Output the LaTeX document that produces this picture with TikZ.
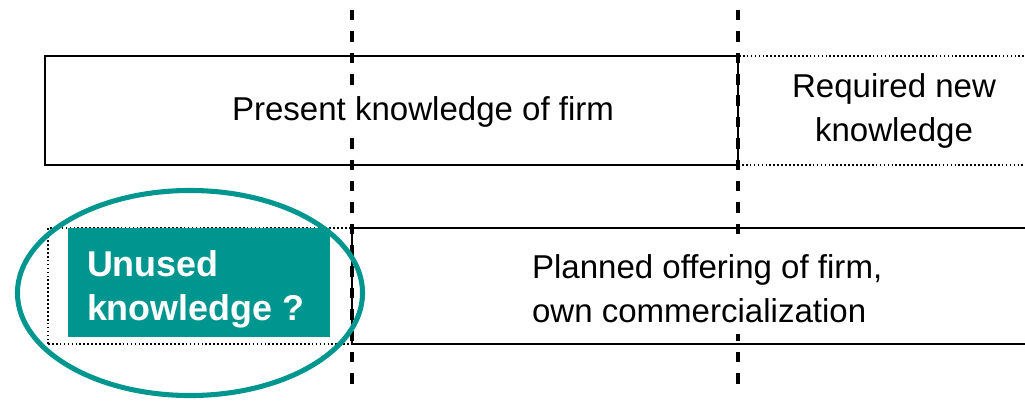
\documentclass[tikz,border=0pt]{standalone}
\usepackage{fontspec}
\setmainfont{Liberation Sans}
\usetikzlibrary{shapes.geometric}
\definecolor{tealk}{RGB}{0,150,144}
\begin{document}
\begin{tikzpicture}[x=0.025cm,y=-0.025cm]
\tikzstyle{every node} = [inner sep=0,outer sep=0,line width=1.4pt];
\tikzstyle{box} = [draw,rectangle,minimum height=2.725cm];
\tikzstyle{dotbox} = [box,dash pattern=on 1.2pt off 1.6pt];
\tikzstyle{txt} = [font=\fontsize{23.5}{31}\selectfont,fill=white,inner xsep=4pt,inner ysep=8pt,align=left,anchor=base west];
\useasboundingbox (0,0) rectangle (1025,401);
% guide lines
\foreach \x/\l in {352/a, 738/b}{
	\coordinate (\l_top) at (\x,10);
	\coordinate (\l_bot) at (\x,386);
	\draw [line width=2.2pt,dash pattern=on 7.4pt off 7.8pt] (\l_top) -- (\l_bot);
}
\node at (391.5,110.5) [box,minimum width=17.325cm] (present) {};
\node at (891.5,110.5) [dotbox,minimum width=7.675cm] (required) {};
\node at (698.5,286) [box,minimum width=17.325cm,minimum height=2.9cm] (planned) {};
\node at (200,286) [dotbox,minimum width=7.6cm,minimum height=2.9cm] (unused) {};
\node at (226.4,120) [txt] (present_t) {Present knowledge of firm};
\node at (894,141) [txt,anchor=base,align=center,fill=none] (required_t) {Required new\\knowledge};
\node at (526.4,322) [txt] (planned_t) {Planned offering of firm,\\own commercialization};
\node at (199,282.5) [fill=tealk,minimum width=6.55cm,minimum height=2.725cm] (tealbox) {};
\node at (87,320) [anchor=base west,align=left,text=white,font=\bfseries\fontsize{25.5}{30.6}\selectfont] (unused_t) {Unused\\knowledge ?};
\node at (190,293) [ellipse,draw=tealk,line width=3.6pt,minimum width=8.625cm,minimum height=5.125cm] (ring) {};
\end{tikzpicture}
\end{document}
